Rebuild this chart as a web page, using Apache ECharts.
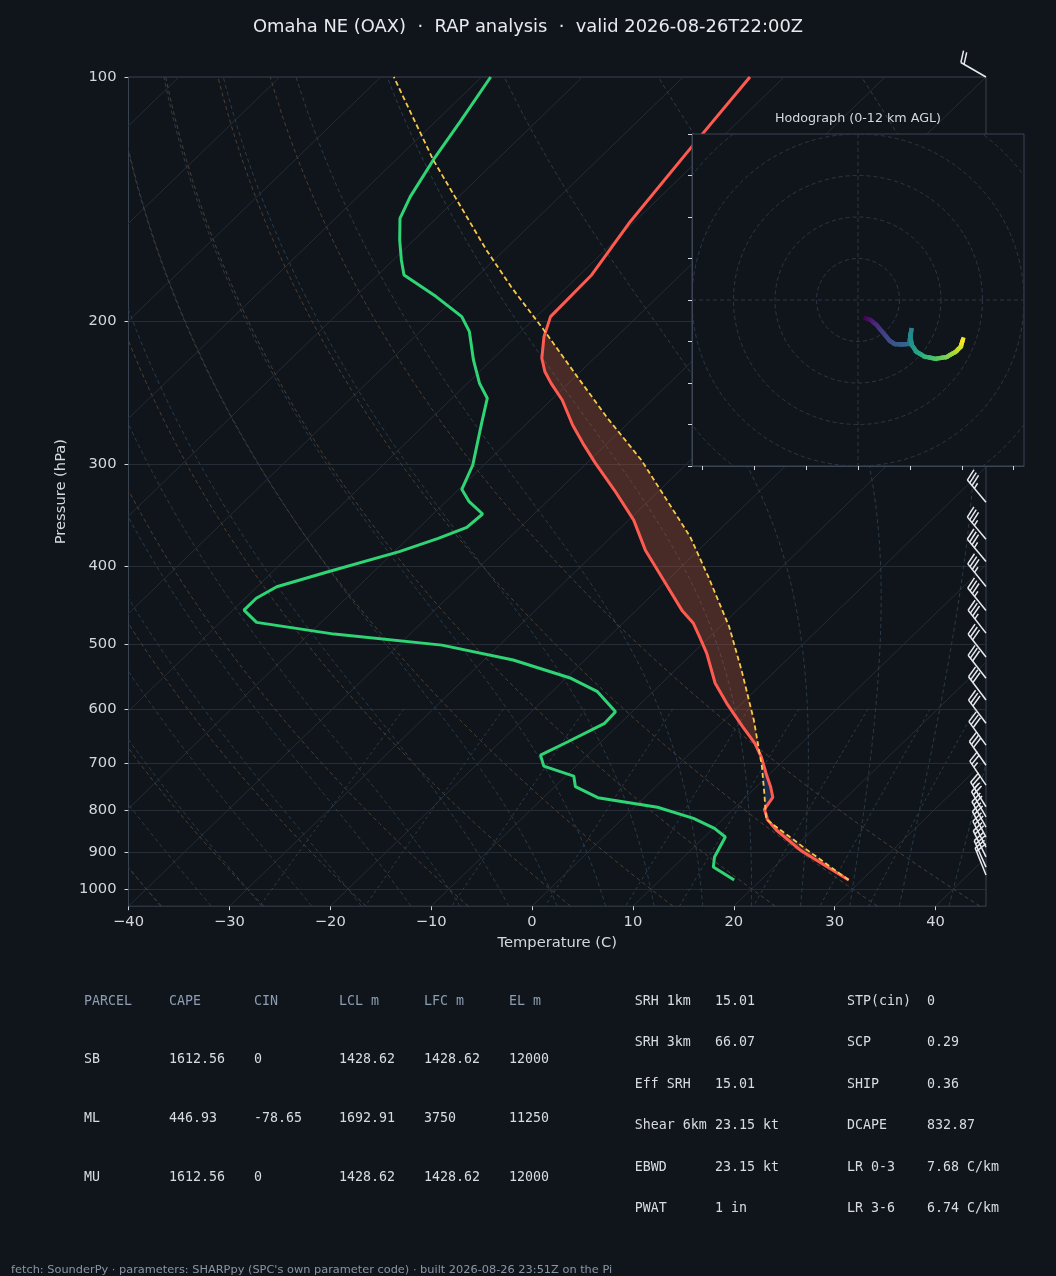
<!DOCTYPE html>
<html>
<head>
<meta charset="utf-8">
<title>Omaha NE (OAX) sounding</title>
<script src="https://cdn.jsdelivr.net/npm/echarts@6.0.0/dist/echarts.min.js"></script>
<style>
html, body { margin: 0; padding: 0; background: #10151c; }
#main { width: 1056px; height: 1276px; }
</style>
</head>
<body>
<div id="main"></div>
<script>
// ---- sounding (hPa / deg C), surface first ----
var tempP = [974.8, 938.9, 895.2, 845.9, 820.6, 814.7, 797.8, 771.0, 748.2, 723.8, 687.3, 661.7, 631.3, 590.6, 558.0, 512.6, 489.2, 470.8, 453.5, 416.4, 382.3, 351.3, 322.6, 299.1, 282.6, 268.3, 249.9, 238.4, 230.7, 222.0, 208.8, 197.3, 175.3, 151.4, 122.1, 100];
var tempT = [28.7, 25.2, 20.8, 16.4, 14.4, 14.1, 13.1, 12.7, 11.4, 9.8, 7.4, 5.4, 2.5, -1.5, -4.7, -8.6, -11.0, -13.0, -15.5, -20.4, -25.3, -29.5, -34.5, -39.1, -42.4, -45.3, -48.9, -51.7, -53.5, -55.2, -57.2, -58.6, -58.8, -60.4, -62.0, -63.4];

var dewP = [974.8, 939.7, 913.4, 863.0, 841.9, 818.4, 793.2, 771.9, 748.2, 726.0, 705.7, 684.0, 658.7, 625.1, 604.9, 571.5, 550.2, 522.4, 500.8, 485.4, 469.5, 453.5, 438.5, 424.4, 406.7, 384.2, 370.0, 358.6, 345.3, 333.4, 321.9, 300.5, 267.0, 248.7, 238.4, 223.1, 205.9, 197.3, 186.4, 175.3, 168.0, 158.8, 149.3, 140.4, 125.4, 113.0, 100];
var dewT = [17.35, 13.96, 13.05, 12.07, 10.1, 7.0, 2.3, -4.6, -7.95, -9.2, -13.2, -14.65, -13.3, -11.55, -11.66, -15.5, -19.5, -27.1, -35.7, -47.5, -56.4, -58.9, -58.9, -58.05, -54.5, -49.5, -47.0, -45.3, -45.1, -47.7, -49.7, -51.1, -54.5, -56.5, -58.8, -61.8, -65.1, -67.4, -72.0, -77.4, -79.2, -81.4, -83.6, -84.8, -86.4, -87.6, -89.1];

var parcelP = [974.8, 895.2, 820.6, 762.3, 707.1, 668.1, 619.3, 537.4, 475.4, 412.5, 368.3, 296.3, 263.3, 236.2, 203.9, 181.2, 163.3, 126.5, 100];
var parcelT = [28.7, 21.5, 14.3, 11.45, 8.5, 6.1, 2.9, -3.45, -9.1, -16.3, -22.2, -34.9, -42.5, -49.2, -58.2, -65.6, -71.8, -86.3, -98.7];
var lclP = 820.6;

// ---- wind barbs at the right edge (hPa, direction deg, speed kt) ----
var barbP = [100, 334, 371, 395, 424, 454, 484, 518, 550, 585, 625, 665, 704, 745, 792, 815, 839, 863, 888, 913, 940, 961];
var barbDir = [300, 320, 320, 320, 321, 321, 322, 322, 322, 323, 323, 324, 325, 326, 328, 330, 331, 332, 333, 334, 336, 338];
var barbSpd = [20, 35, 35, 35, 35, 35, 35, 30, 30, 30, 30, 30, 30, 25, 25, 20, 20, 20, 20, 20, 20, 20];

// ---- hodograph (kt) coloured by height (km) ----
var hodoU = [3.7, 6.0, 8.9, 12.0, 15.3, 17.7, 20.9, 24.6, 25.7, 25.2, 26.0, 28.1, 32.1, 37.4, 42.6, 47.1, 49.5, 50.6];
var hodoV = [-8.8, -9.6, -12.0, -15.7, -19.6, -21.2, -21.4, -21.2, -14.5, -17.7, -21.7, -24.9, -27.3, -28.3, -27.5, -24.9, -22.5, -19.0];
var hodoZ = [0, 0.6, 1.4, 2.1, 2.7, 3.1, 3.5, 4.1, 5.3, 5.7, 6.1, 6.7, 7.7, 8.6, 9.5, 10.4, 11.1, 12];
var hodoRings = [20, 40, 60, 80, 100, 120];

// ---- axis ticks ----
var tempTicks = [-40, -30, -20, -10, 0, 10, 20, 30, 40];
var presTicks = [100, 200, 300, 400, 500, 600, 700, 800, 900, 1000];
var hodoXTicks = [-75, -50, -25, 0, 25, 50, 75];
var hodoYTicks = [-80, -60, -40, -20, 0, 20, 40, 60, 80];

// ---- text tables ----
var parcelHead = ['PARCEL', 'CAPE', 'CIN', 'LCL m', 'LFC m', 'EL m'];
var parcelRows = [
  ['SB', '1612.56', '0', '1428.62', '1428.62', '12000'],
  ['ML', '446.93', '-78.65', '1692.91', '3750', '11250'],
  ['MU', '1612.56', '0', '1428.62', '1428.62', '12000']
];
var paramsA = [['SRH 1km', '15.01'], ['SRH 3km', '66.07'], ['Eff SRH', '15.01'], ['Shear 6km', '23.15 kt'], ['EBWD', '23.15 kt'], ['PWAT', '1 in']];
var paramsB = [['STP(cin)', '0'], ['SCP', '0.29'], ['SHIP', '0.36'], ['DCAPE', '832.87'], ['LR 0-3', '7.68 C/km'], ['LR 3-6', '6.74 C/km']];

var BG = '#10151c';
var XMIN = -40, XMAX = 45, PBOT = 1050, PTOP = 100;

// skew-T: shift x by the height fraction (45 deg in axes space)
function skew(T, p) {
  return T + (XMAX - XMIN) * Math.log(PBOT / p) / Math.log(PBOT / PTOP);
}
function prof(P, T) {
  return P.map(function (p, i) { return [skew(T[i], p), p]; });
}
function interp(P, V, p) {
  if (p >= P[0]) return V[0];
  for (var i = 1; i < P.length; i++) {
    if (p >= P[i]) {
      var f = Math.log(P[i - 1] / p) / Math.log(P[i - 1] / P[i]);
      return V[i - 1] + (V[i] - V[i - 1]) * f;
    }
  }
  return V[V.length - 1];
}

// background diagram lines
var isobars = presTicks.map(function (p) { return { coords: [[XMIN, p], [XMAX, p]] }; });
var isotherms = [];
for (var t = -120; t <= 40; t += 10) isotherms.push({ coords: [[t, PBOT], [t + 85, PTOP]] });

var logP = [];
for (var k = 0; k <= 40; k++) logP.push(PBOT * Math.pow(PTOP / PBOT, k / 40));

var dryLines = [];
for (var t0 = -40; t0 <= 40; t0 += 10) {
  dryLines.push({ coords: logP.map(function (p) {
    return [skew((t0 + 273.15) * Math.pow(p / 1000, 0.28571) - 273.15, p), p];
  }) });
}

function moistGrad(p, Tk) {
  var es = 6.112 * Math.exp(17.67 * (Tk - 273.15) / (Tk - 29.65));
  var rs = 0.622 * es / (p - es);
  return (287.04 * Tk + 2.501e6 * rs) / (1004.67 + 2.501e6 * 2.501e6 * rs * 0.622 / (287.04 * Tk * Tk)) / p;
}
function moistRun(T0, pEnd, h) {
  var out = [], p = 1000, T = T0 + 273.15;
  out.push([p, T]);
  while ((h < 0 && p > pEnd) || (h > 0 && p < pEnd)) {
    var k1 = moistGrad(p, T), k2 = moistGrad(p + h / 2, T + h / 2 * k1);
    var k3 = moistGrad(p + h / 2, T + h / 2 * k2), k4 = moistGrad(p + h, T + h * k3);
    T += h / 6 * (k1 + 2 * k2 + 2 * k3 + k4);
    p += h;
    out.push([p, T]);
  }
  return out;
}
var moistLines = [];
for (var m0 = -40; m0 <= 45; m0 += 5) {
  var pts = moistRun(m0, PBOT, 5).reverse().concat(moistRun(m0, PTOP, -5).slice(1));
  moistLines.push({ coords: pts.map(function (q) { return [skew(q[1] - 273.15, q[0]), q[0]]; }) });
}

var mixLines = [0.0004, 0.001, 0.002, 0.004, 0.007, 0.01, 0.016, 0.024, 0.032].map(function (w) {
  var c = [];
  for (var p = 600; p <= 1050.1; p += 50) {
    var e = p * w / (0.622 + w), a = Math.log(e / 6.112);
    c.push([skew(243.5 * a / (17.67 - a), p), p]);
  }
  return { coords: c };
});

// CAPE / CIN regions between parcel and environment
function shadeRegions() {
  var grid = tempP.concat(parcelP).filter(function (p) { return p <= 974.8 && p >= 100; });
  grid.sort(function (a, b) { return b - a; });
  grid = grid.filter(function (p, i) { return i === 0 || Math.abs(p - grid[i - 1]) > 0.05; });
  var rows = grid.map(function (p) { return [p, interp(parcelP, parcelT, p), interp(tempP, tempT, p)]; });
  var regions = [], cur = { sign: Math.sign(rows[0][1] - rows[0][2]) || 1, pts: [rows[0]] };
  for (var i = 1; i < rows.length; i++) {
    var d0 = rows[i - 1][1] - rows[i - 1][2], d1 = rows[i][1] - rows[i][2];
    if (d0 * d1 < 0) {
      var f = d0 / (d0 - d1);
      var pc = Math.exp(Math.log(rows[i - 1][0]) + f * (Math.log(rows[i][0]) - Math.log(rows[i - 1][0])));
      var tc = interp(tempP, tempT, pc);
      cur.pts.push([pc, tc, tc]);
      regions.push(cur);
      cur = { sign: Math.sign(d1), pts: [[pc, tc, tc]] };
    }
    cur.pts.push(rows[i]);
  }
  regions.push(cur);
  var elP = 2000;
  regions.forEach(function (r) { if (r.sign > 0) elP = Math.min(elP, r.pts[r.pts.length - 1][0]); });
  return regions.filter(function (r) {
    if (r.sign > 0) return r.pts.length >= 2;
    return r.pts[0][0] <= lclP + 1 && r.pts[r.pts.length - 1][0] >= elP - 1;
  });
}
var regions = shadeRegions();

function viridis(f) {
  var s = ['#440154', '#482475', '#414487', '#355f8d', '#2a788e', '#21918c', '#22a884', '#44bf70', '#7ad151', '#bddf26', '#fde725'];
  f = Math.max(0, Math.min(1, f)) * 10;
  var i = Math.min(9, Math.floor(f)), r = f - i;
  function c(h) { return [parseInt(h.substr(1, 2), 16), parseInt(h.substr(3, 2), 16), parseInt(h.substr(5, 2), 16)]; }
  var a = c(s[i]), b = c(s[i + 1]);
  return 'rgb(' + Math.round(a[0] + (b[0] - a[0]) * r) + ',' + Math.round(a[1] + (b[1] - a[1]) * r) + ',' + Math.round(a[2] + (b[2] - a[2]) * r) + ')';
}

// matplotlib-style barb: staff from the anchor toward where the wind comes from
function barbShapes(bx, by, dir, spd) {
  var L = 29, sp = 0.125 * L, h = 0.4 * L, w = 0.25 * L;
  var rad = dir * Math.PI / 180;
  var u = -spd * Math.sin(rad), v = -spd * Math.cos(rad);
  var phi = Math.atan2(v, u) + Math.PI / 2, cs = Math.cos(phi), sn = Math.sin(phi);
  function P(x, y) { return [bx + x * cs - y * sn, by - (x * sn + y * cs)]; }
  var st = { stroke: '#e8eaee', lineWidth: 1.5, fill: null };
  var out = [{ type: 'polyline', shape: { points: [P(0, 0), P(0, L)] }, style: st }];
  var s5 = Math.round(spd / 5) * 5;
  var flags = Math.floor(s5 / 50), rem = s5 - flags * 50;
  var full = Math.floor(rem / 10), half = rem - full * 10 >= 5;
  var off = L;
  for (var i = 0; i < flags; i++) {
    out.push({ type: 'polygon', shape: { points: [P(0, off), P(h, off - w / 2), P(0, off - w)] }, style: { fill: '#e8eaee', stroke: '#e8eaee', lineWidth: 1 } });
    off -= w + sp;
  }
  for (var j = 0; j < full; j++) {
    out.push({ type: 'polyline', shape: { points: [P(0, off), P(h, off + w / 2)] }, style: st });
    off -= sp;
  }
  if (half) {
    if (off === L) off -= 1.5 * sp;
    out.push({ type: 'polyline', shape: { points: [P(0, off), P(h / 2, off + w / 4)] }, style: st });
  }
  return out;
}

function fmtT(v) { return v < 0 ? '\u2212' + (-v) : String(v); }

// ---- text graphics ----
var texts = [];
function txt(x, y, s, size, color, family, align) {
  texts.push({ type: 'text', x: x, y: y, silent: true, z: 100,
    style: { text: s, fontSize: size, fontFamily: family || 'DejaVu Sans', fill: color, align: align || 'left', verticalAlign: 'middle' } });
}
txt(528, 27, 'Omaha NE (OAX)  \u00b7  RAP analysis  \u00b7  valid 2026-08-26T22:00Z', 17.9, '#e8eaed', null, 'center');
txt(858, 119, 'Hodograph (0-12 km AGL)', 12.7, '#d4d8dd', null, 'center');
var colX = [84, 169, 254, 339, 424, 509];
parcelHead.forEach(function (s, i) { txt(colX[i], 1001.5, s, 13.3, '#8d9cb1', 'DejaVu Sans Mono'); });
parcelRows.forEach(function (row, r) {
  row.forEach(function (s, i) { txt(colX[i], 1060 + r * 59, s, 13.3, '#d8dce2', 'DejaVu Sans Mono'); });
});
paramsA.forEach(function (row, r) {
  txt(634.7, 1001.5 + r * 41.5, row[0], 13.3, '#d8dce2', 'DejaVu Sans Mono');
  txt(715, 1001.5 + r * 41.5, row[1], 13.3, '#d8dce2', 'DejaVu Sans Mono');
});
paramsB.forEach(function (row, r) {
  txt(847, 1001.5 + r * 41.5, row[0], 13.3, '#d8dce2', 'DejaVu Sans Mono');
  txt(927, 1001.5 + r * 41.5, row[1], 13.3, '#d8dce2', 'DejaVu Sans Mono');
});
txt(11, 1270, 'fetch: SounderPy \u00b7 parameters: SHARPpy (SPC\'s own parameter code) \u00b7 built 2026-08-26 23:51Z on the Pi', 11.35, '#8a95a3');

var chart = echarts.init(document.getElementById('main'));
var gridLine = '#252c35';
var option = {
  backgroundColor: BG,
  animation: false,
  textStyle: { fontFamily: 'DejaVu Sans' },
  grid: [
    { left: 128.5, top: 77, width: 857.5, height: 829.2, show: true, borderColor: '#384250', borderWidth: 1, backgroundColor: 'transparent' },
    { left: 692, top: 134, width: 332, height: 332, show: false }
  ],
  xAxis: [
    { type: 'value', gridIndex: 0, min: XMIN, max: XMAX,
      axisLine: { show: false, onZero: false },
      axisTick: { show: true, customValues: tempTicks, length: 4, lineStyle: { color: '#cfd4da' } },
      axisLabel: { customValues: tempTicks, formatter: fmtT, color: '#d4d8dd', fontSize: 14.7, margin: 8 },
      splitLine: { show: false },
      name: 'Temperature (C)', nameLocation: 'middle', nameGap: 29,
      nameTextStyle: { color: '#d4d8dd', fontSize: 14.7 } },
    { type: 'value', gridIndex: 1, min: -80, max: 80, z: 20,
      axisLine: { show: true, onZero: false, lineStyle: { color: '#3a4452' } },
      axisTick: { show: true, customValues: hodoXTicks, length: 4, lineStyle: { color: '#d4d8dd' } },
      axisLabel: { show: false }, splitLine: { show: false } }
  ],
  yAxis: [
    { type: 'log', logBase: 10, gridIndex: 0, min: PTOP, max: PBOT, inverse: true,
      axisLine: { show: false, onZero: false },
      axisTick: { show: true, customValues: presTicks, length: 4, lineStyle: { color: '#cfd4da' } },
      axisLabel: { customValues: presTicks, formatter: function (v) { return String(Math.round(v)); }, color: '#d4d8dd', fontSize: 14.7, margin: 12 },
      splitLine: { show: false },
      name: 'Pressure (hPa)', nameLocation: 'middle', nameGap: 55, nameRotate: 90,
      nameTextStyle: { color: '#d4d8dd', fontSize: 14.7 } },
    { type: 'value', gridIndex: 1, min: -80, max: 80, interval: 20, z: 20,
      axisLine: { show: true, onZero: false, lineStyle: { color: '#3a4452' } },
      axisTick: { show: true, customValues: hodoYTicks, length: 4, lineStyle: { color: '#d4d8dd' } },
      axisLabel: { show: false }, splitLine: { show: false } }
  ],
  series: [
    { type: 'lines', coordinateSystem: 'cartesian2d', xAxisIndex: 0, yAxisIndex: 0, silent: true, clip: true, z: 1,
      data: isobars, lineStyle: { color: gridLine, width: 1, opacity: 1 } },
    { type: 'lines', coordinateSystem: 'cartesian2d', xAxisIndex: 0, yAxisIndex: 0, silent: true, clip: true, z: 1,
      data: isotherms, lineStyle: { color: gridLine, width: 1, opacity: 1 } },
    { type: 'lines', coordinateSystem: 'cartesian2d', polyline: true, xAxisIndex: 0, yAxisIndex: 0, silent: true, clip: true, z: 1,
      data: dryLines, lineStyle: { color: '#4b3f31', width: 1, type: [4, 3], opacity: 1 } },
    { type: 'lines', coordinateSystem: 'cartesian2d', polyline: true, xAxisIndex: 0, yAxisIndex: 0, silent: true, clip: true, z: 1,
      data: moistLines, lineStyle: { color: '#2b3c49', width: 1, type: [4, 3], opacity: 1 } },
    { type: 'lines', coordinateSystem: 'cartesian2d', polyline: true, xAxisIndex: 0, yAxisIndex: 0, silent: true, clip: true, z: 1,
      data: mixLines, lineStyle: { color: '#2b3c49', width: 1, type: [3, 3], opacity: 1 } },
    { type: 'custom', coordinateSystem: 'cartesian2d', xAxisIndex: 0, yAxisIndex: 0, silent: true, clip: true, z: 2,
      data: [[0, 500]],
      renderItem: function (params, api) {
        var kids = regions.map(function (r) {
          var poly = r.pts.map(function (q) { return api.coord([skew(q[1], q[0]), q[0]]); });
          var back = r.pts.slice().reverse().map(function (q) { return api.coord([skew(q[2], q[0]), q[0]]); });
          return { type: 'polygon', shape: { points: poly.concat(back) },
            style: { fill: r.sign > 0 ? 'rgba(235,105,70,0.26)' : 'rgba(60,110,210,0.26)', stroke: null } };
        });
        return { type: 'group', children: kids };
      } },
    { type: 'line', xAxisIndex: 0, yAxisIndex: 0, data: prof(dewP, dewT), showSymbol: false, z: 4,
      lineStyle: { color: '#2fd475', width: 3 } },
    { type: 'line', xAxisIndex: 0, yAxisIndex: 0, data: prof(tempP, tempT), showSymbol: false, z: 4,
      lineStyle: { color: '#ff5a4f', width: 3 } },
    { type: 'line', xAxisIndex: 0, yAxisIndex: 0, data: prof(parcelP, parcelT), showSymbol: false, z: 5,
      lineStyle: { color: '#f7c948', width: 1.8, type: [5, 3] } },
    { type: 'custom', coordinateSystem: 'cartesian2d', xAxisIndex: 0, yAxisIndex: 0, silent: true, clip: false, z: 6,
      data: barbP.map(function (p) { return [XMAX, p]; }),
      renderItem: function (params, api) {
        var i = params.dataIndex, b = api.coord([XMAX, barbP[i]]);
        return { type: 'group', children: barbShapes(b[0], b[1], barbDir[i], barbSpd[i]) };
      } },
    // hodograph inset
    { type: 'custom', coordinateSystem: 'cartesian2d', xAxisIndex: 1, yAxisIndex: 1, silent: true, clip: false, z: 10,
      data: [[0, 0]],
      renderItem: function (params, api) {
        var a = api.coord([-80, 80]), b = api.coord([80, -80]);
        return { type: 'rect', shape: { x: a[0], y: a[1], width: b[0] - a[0], height: b[1] - a[1] },
          style: { fill: BG, stroke: '#3a4452', lineWidth: 1 } };
      } },
    { type: 'custom', coordinateSystem: 'cartesian2d', xAxisIndex: 1, yAxisIndex: 1, silent: true, clip: true, z: 11,
      data: [[0, 0]],
      renderItem: function (params, api) {
        var c = api.coord([0, 0]), kids = [];
        var ds = { fill: null, stroke: '#2c3744', lineWidth: 1, lineDash: [4, 3] };
        hodoRings.forEach(function (R) {
          kids.push({ type: 'circle', shape: { cx: c[0], cy: c[1], r: api.size([R, 0])[0] }, style: ds });
        });
        var l = api.coord([-80, 0]), r = api.coord([80, 0]), t = api.coord([0, 80]), d = api.coord([0, -80]);
        kids.push({ type: 'line', shape: { x1: l[0], y1: l[1], x2: r[0], y2: r[1] }, style: ds });
        kids.push({ type: 'line', shape: { x1: t[0], y1: t[1], x2: d[0], y2: d[1] }, style: ds });
        return { type: 'group', children: kids };
      } },
    { type: 'custom', coordinateSystem: 'cartesian2d', xAxisIndex: 1, yAxisIndex: 1, silent: true, clip: true, z: 12,
      data: hodoU.slice(1).map(function (u, i) { return [u, hodoV[i + 1]]; }),
      renderItem: function (params, api) {
        var i = params.dataIndex, kids = [], n = 4;
        for (var s = 0; s < n; s++) {
          var f0 = s / n, f1 = (s + 1) / n;
          var p0 = api.coord([hodoU[i] + (hodoU[i + 1] - hodoU[i]) * f0, hodoV[i] + (hodoV[i + 1] - hodoV[i]) * f0]);
          var p1 = api.coord([hodoU[i] + (hodoU[i + 1] - hodoU[i]) * f1, hodoV[i] + (hodoV[i + 1] - hodoV[i]) * f1]);
          var z = hodoZ[i] + (hodoZ[i + 1] - hodoZ[i]) * (f0 + f1) / 2;
          kids.push({ type: 'line', shape: { x1: p0[0], y1: p0[1], x2: p1[0], y2: p1[1] },
            style: { stroke: viridis(z / 12), lineWidth: 4.2, lineCap: 'square' } });
        }
        return { type: 'group', children: kids };
      } }
  ],
  graphic: { elements: texts }
};
chart.setOption(option);
</script>
</body>
</html>
